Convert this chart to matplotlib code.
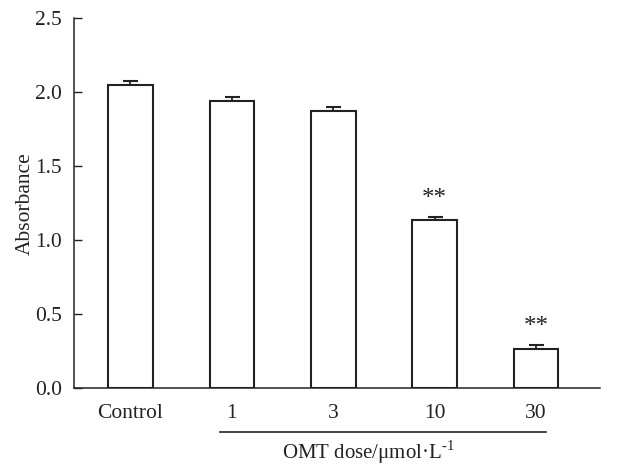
import matplotlib.pyplot as plt
from matplotlib.lines import Line2D
import matplotlib.transforms as mtransforms

plt.rcParams['font.family'] = ['Liberation Serif', 'DejaVu Serif']
plt.rcParams['mathtext.fontset'] = 'custom'
plt.rcParams['mathtext.rm'] = 'Liberation Serif'

# data
groups = ['Control', '1', '3', '10', '30']
absorbance = [2.052, 1.940, 1.876, 1.137, 0.266]
sem = [0.027, 0.028, 0.027, 0.023, 0.027]
marks = ['', '', '', '**', '**']
y_ticks = [0.0, 0.5, 1.0, 1.5, 2.0, 2.5]

ink = '#222222'

fig = plt.figure(figsize=(6.32, 4.72), dpi=100)
ax = fig.add_axes([74 / 632, 1 - 388.3 / 472, 526 / 632, 370 / 472])

x = list(range(len(groups)))
ax.bar(x, absorbance, width=0.44, color='white', edgecolor=ink, linewidth=1.5, zorder=2)
ax.errorbar(x, absorbance, yerr=[[0] * len(sem), sem], fmt='none', ecolor=ink,
            elinewidth=1.3, capsize=5.4, capthick=1.5, zorder=1)

for xi, yi, ei, m in zip(x, absorbance, sem, marks):
    if m:
        ax.annotate(m, (xi, yi + ei), xytext=(0, 5), textcoords='offset points',
                    ha='center', va='bottom', fontsize=18, color=ink)

ax.set_xlim(-0.557, 4.63)
ax.set_ylim(0, 2.5)
ax.set_yticks(y_ticks)
ax.set_yticklabels([f'{v:.1f}' for v in y_ticks])
ax.set_xticks(x)
ax.set_xticklabels(groups)

ax.tick_params(axis='y', direction='in', length=6, width=1, pad=8.5, labelsize=15.5, colors=ink)
ax.tick_params(axis='x', length=0, pad=11, labelsize=15.5, colors=ink)

for side in ['top', 'right']:
    ax.spines[side].set_visible(False)
for side in ['left', 'bottom']:
    ax.spines[side].set_linewidth(1.1)
    ax.spines[side].set_color(ink)

ax.set_ylabel('Absorbance', fontsize=15.5, color=ink, labelpad=0)

# grouping line under the OMT doses
trans = mtransforms.blended_transform_factory(ax.transData, ax.transAxes)
ax.add_line(Line2D([0.88, 4.10], [-0.118, -0.118], transform=trans, color=ink,
                   linewidth=1.2, clip_on=False))
ax.text(2.35, -0.172, 'OMT dose/μmol·L$^{\\mathregular{‐1}}$', transform=trans,
        ha='center', va='center', fontsize=15, color=ink)

fig.savefig('out.png', dpi=100)
